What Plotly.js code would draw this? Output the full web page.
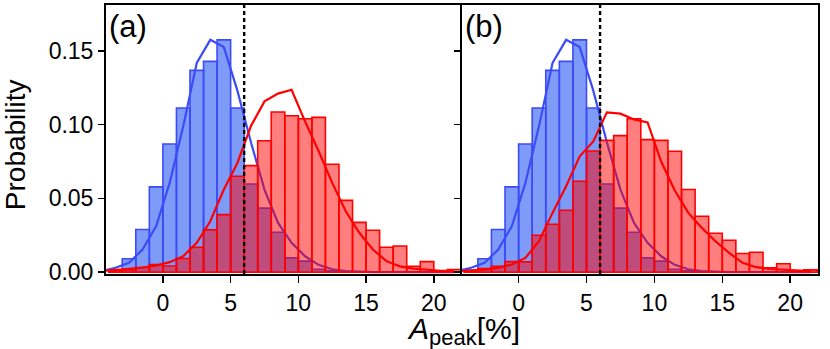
<!DOCTYPE html>
<html>
<head>
<meta charset="utf-8">
<script src="https://cdn.plot.ly/plotly-3.0.1.min.js"></script>
<style>
  html, body { margin: 0; padding: 0; background: #fff; }
  #chart { width: 830px; height: 349px; }
</style>
</head>
<body>
<div id="chart"></div>
<script>
// bin centres (bins of width 1 from -4 to 22)
const binCenters = [-3.5, -2.5, -1.5, -0.5, 0.5, 1.5, 2.5, 3.5, 4.5, 5.5, 6.5, 7.5, 8.5,
  9.5, 10.5, 11.5, 12.5, 13.5, 14.5, 15.5, 16.5, 17.5, 18.5, 19.5, 20.5, 21.5];

// blue histogram (same in both panels)
const blueBars = [0.0015, 0.0091, 0.0289, 0.0578, 0.0869, 0.1112, 0.1367, 0.1428, 0.1574, 0.1112,
  0.0598, 0.0434, 0.0271, 0.0097, 0.0075, 0.002, 0.001, 0.0005, 0, 0, 0, 0, 0, 0, 0, 0];

// red histograms
const redBarsA = [0.001, 0.0015, 0.0032, 0.0052, 0.0042, 0.0093, 0.0169, 0.0287, 0.039, 0.065,
  0.0722, 0.0891, 0.1085, 0.106, 0.104, 0.1049, 0.0731, 0.0487, 0.0338, 0.0284,
  0.0169, 0.0178, 0.0041, 0.0072, 0.0007, 0.0018];
const redBarsB = [0.001, 0.0025, 0.0041, 0.0072, 0.007, 0.025, 0.0325, 0.042, 0.0616, 0.0821,
  0.0893, 0.0925, 0.104, 0.0898, 0.0893, 0.0819, 0.056, 0.0379, 0.0264, 0.0217,
  0.0127, 0.0135, 0.003, 0.0057, 0.0005, 0.0016];

// smoothed curves
const curveX = [-4.5, -3.5, -2.5, -1.5, -0.5, 0.5, 1.5, 2.5, 3.5, 4.5, 5.5, 6.5, 7.5, 8.5,
  9.5, 10.5, 11.5, 12.5, 13.5, 14.5, 15.5, 16.5, 17.5, 18.5, 19.5, 20.5, 21.5];
const blueCurve = [0.0008, 0.003, 0.0064, 0.0154, 0.0311, 0.0605, 0.0988, 0.1417, 0.1574, 0.1525,
  0.123, 0.088, 0.056, 0.0334, 0.0199, 0.0108, 0.005, 0.002, 0.0008, 0.0003,
  0.0001, 0.0001, 0.0001, 0.0001, 0.0001, 0.0001, 0.0001];
const redCurveA = [0.0008, 0.0014, 0.0023, 0.0032, 0.0045, 0.0068, 0.0108, 0.0199, 0.0345, 0.056,
  0.074, 0.099, 0.1157, 0.121, 0.1236, 0.102, 0.0819, 0.0605, 0.0413, 0.0267,
  0.0154, 0.0075, 0.004, 0.0025, 0.0018, 0.001, 0.001];
const redCurveB = [0.0007, 0.0011, 0.0018, 0.003, 0.0052, 0.0097, 0.021, 0.0402, 0.0582, 0.0785,
  0.0886, 0.1083, 0.1074, 0.1035, 0.1015, 0.075, 0.0553, 0.0402, 0.03, 0.021,
  0.0131, 0.0064, 0.0034, 0.0022, 0.0018, 0.001, 0.0008];

const threshold = 6;
const panelLabels = ['(a)', '(b)'];

const BLUE = 'rgb(60,75,245)';
const BLUE_FILL = 'rgba(0,55,241,0.5)';
const RED = 'rgb(255,0,0)';
const RED_FILL = 'rgba(255,0,0,0.5)';
const FONT = 'Liberation Sans, Arial, sans-serif';

function bars(y, fill, line, xa, ya) {
  return {
    type: 'bar', x: binCenters, y: y, width: 1, xaxis: xa, yaxis: ya,
    marker: { color: fill, line: { color: line, width: 1.6 } },
    hoverinfo: 'skip', showlegend: false
  };
}
function curve(y, color, xa, ya) {
  return {
    type: 'scatter', mode: 'lines', x: curveX, y: y, xaxis: xa, yaxis: ya,
    line: { color: color, width: 2.2 }, hoverinfo: 'skip', showlegend: false
  };
}

const traces = [
  bars(blueBars, BLUE_FILL, BLUE, 'x', 'y'),
  curve(blueCurve, BLUE, 'x', 'y'),
  bars(redBarsA, RED_FILL, RED, 'x', 'y2'),
  curve(redCurveA, RED, 'x', 'y2'),
  bars(blueBars, BLUE_FILL, BLUE, 'x2', 'y3'),
  curve(blueCurve, BLUE, 'x2', 'y3'),
  bars(redBarsB, RED_FILL, RED, 'x2', 'y4'),
  curve(redCurveB, RED, 'x2', 'y4')
];

const xRange = [-4.2, 22.05];
const yRange = [-0.0012, 0.181];

const xBase = {
  range: xRange, showgrid: false, zeroline: false,
  showline: true, linecolor: '#000', linewidth: 2, mirror: true,
  ticks: 'outside', ticklen: 7, tickwidth: 1.5, tickcolor: '#000',
  tick0: 0, dtick: 5, tickfont: { family: FONT, size: 23, color: '#000' }
};
const yBase = {
  range: yRange, showgrid: false, zeroline: false,
  showline: true, linecolor: '#000', linewidth: 2,
  ticks: 'outside', ticklen: 6, tickwidth: 1.5, tickcolor: '#000',
  tick0: 0, dtick: 0.05, tickformat: '.2f',
  tickfont: { family: FONT, size: 23, color: '#000' }
};
const yHidden = { range: yRange, visible: false, showgrid: false, zeroline: false };

const layout = {
  width: 830, height: 349,
  margin: { l: 106, r: 12, t: 5, b: 75 },
  paper_bgcolor: '#fff', plot_bgcolor: '#fff',
  font: { family: FONT, color: '#000' },
  barmode: 'overlay', bargap: 0,
  xaxis: Object.assign({}, xBase, { domain: [0, 0.4994], anchor: 'y' }),
  yaxis: Object.assign({}, yBase, { anchor: 'x', mirror: false }),
  yaxis2: Object.assign({}, yHidden, { overlaying: 'y', anchor: 'x' }),
  xaxis2: Object.assign({}, xBase, { domain: [0.4994, 1], anchor: 'y3' }),
  yaxis3: Object.assign({}, yBase, { anchor: 'x2', mirror: true, showticklabels: false }),
  yaxis4: Object.assign({}, yHidden, { overlaying: 'y3', anchor: 'x2' }),
  shapes: [
    { type: 'line', xref: 'x', yref: 'y domain', x0: threshold, x1: threshold, y0: 0, y1: 1,
      layer: 'above', line: { color: '#000', width: 2.4, dash: '4px,3px' } },
    { type: 'line', xref: 'x2', yref: 'y3 domain', x0: threshold, x1: threshold, y0: 0, y1: 1,
      layer: 'above', line: { color: '#000', width: 2.4, dash: '4px,3px' } }
  ],
  annotations: [
    { text: panelLabels[0], xref: 'x domain', yref: 'y domain', x: 0, y: 1,
      xanchor: 'left', yanchor: 'top', xshift: 1, yshift: -2, showarrow: false,
      font: { family: FONT, size: 31, color: '#000' } },
    { text: panelLabels[1], xref: 'x2 domain', yref: 'y3 domain', x: 0, y: 1,
      xanchor: 'left', yanchor: 'top', xshift: 1, yshift: -2, showarrow: false,
      font: { family: FONT, size: 31, color: '#000' } },
    { text: 'Probability', xref: 'paper', yref: 'paper', x: -0.126, y: 0.48,
      xanchor: 'center', yanchor: 'middle', textangle: -90, showarrow: false,
      font: { family: FONT, size: 28, color: '#000' } },
    { text: '<i>A</i><sub><span style="font-size:22px">peak</span></sub>[%]',
      xref: 'paper', yref: 'paper', x: 0.502, y: -0.135,
      xanchor: 'center', yanchor: 'top', showarrow: false,
      font: { family: FONT, size: 30, color: '#000' } }
  ]
};

Plotly.newPlot('chart', traces, layout, { staticPlot: true, displayModeBar: false });
</script>
</body>
</html>
